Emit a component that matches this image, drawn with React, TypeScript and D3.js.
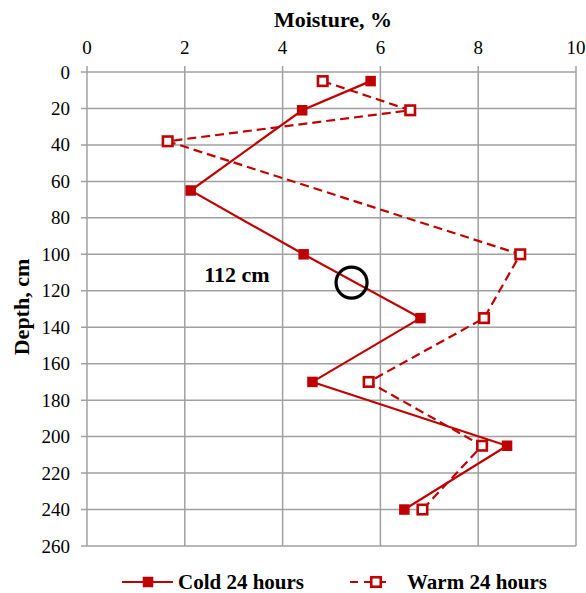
import * as d3 from "d3";

const coldMoisture = [5.8, 4.4, 2.12, 4.43, 6.82, 4.61, 8.59, 6.49];
const coldDepth = [5, 21, 65, 100, 135, 170, 205, 240];
const warmMoisture = [4.82, 6.61, 1.65, 8.86, 8.12, 5.76, 8.08, 6.86];
const warmDepth = [5, 21, 38, 100, 135, 170, 205, 240];
const xTicks = [0, 2, 4, 6, 8, 10];
const yTicks = d3.range(0, 261, 20);
const marker = { moisture: 5.41, depth: 115.5, label: "112 cm" };
const seriesNames = ["Cold 24 hours", "Warm 24 hours"];

const RED = "#c00000";
const GRID = "#a0a0a0";
const FONT = "'Liberation Serif', 'Times New Roman', serif";

export default function App() {
  const W = 586, H = 593;
  const M = { l: 87, r: 10, t: 72, b: 47 };
  const sx = d3.scaleLinear().domain([0, 10]).range([M.l, W - M.r]);
  const sy = d3.scaleLinear().domain([0, 260]).range([M.t, H - M.b]);
  const line = d3.line<[number, number]>().x(d => sx(d[0])).y(d => sy(d[1]));
  const cold: [number, number][] = coldMoisture.map((m, i) => [m, coldDepth[i]]);
  const warm: [number, number][] = warmMoisture.map((m, i) => [m, warmDepth[i]]);
  const sq = 10.5, osq = 9.5;

  return (
    <div style={{ position: "fixed", left: 0, top: 0 }}>
      <svg width={W} height={H} style={{ display: "block", fontFamily: FONT }}>
        <rect width={W} height={H} fill="#fff" />
        {xTicks.map(t => <line key={"gx" + t} x1={sx(t)} x2={sx(t)} y1={M.t - 6} y2={H - M.b} stroke={GRID} strokeWidth={1.5} />)}
        {yTicks.map(t => <line key={"gy" + t} x1={M.l - 6} x2={W - M.r} y1={sy(t)} y2={sy(t)} stroke={GRID} strokeWidth={1.5} />)}
        {xTicks.map(t => <text key={"tx" + t} x={sx(t)} y={M.t - 18} textAnchor="middle" fontSize={19}>{t}</text>)}
        {yTicks.map(t => <text key={"ty" + t} x={M.l - 17} y={sy(t) + 6.5} textAnchor="end" fontSize={19}>{t}</text>)}
        <text x={333} y={27} textAnchor="middle" fontSize={22} fontWeight="bold">Moisture, %</text>
        <text transform={`translate(29 307) rotate(-90)`} textAnchor="middle" fontSize={22} fontWeight="bold">Depth, cm</text>

        <path d={line(warm) || ""} fill="none" stroke={RED} strokeWidth={2.2} strokeDasharray="9 5" />
        <path d={line(cold) || ""} fill="none" stroke={RED} strokeWidth={2.2} />
        {cold.map((d, i) => <rect key={"c" + i} x={sx(d[0]) - sq / 2} y={sy(d[1]) - sq / 2} width={sq} height={sq} fill={RED} />)}
        {warm.map((d, i) => <rect key={"w" + i} x={sx(d[0]) - osq / 2} y={sy(d[1]) - osq / 2} width={osq} height={osq} fill="#fff" stroke={RED} strokeWidth={2.6} />)}

        <circle cx={sx(marker.moisture)} cy={sy(marker.depth)} r={15.5} fill="none" stroke="#000" strokeWidth={3.2} />
        <text x={237} y={282} textAnchor="middle" fontSize={22} fontWeight="bold">{marker.label}</text>

        <g transform="translate(0 582)">
          <line x1={122} x2={173} y1={0} y2={0} stroke={RED} strokeWidth={2.2} />
          <rect x={148 - sq / 2} y={-sq / 2} width={sq} height={sq} fill={RED} />
          <text x={178} y={7} fontSize={21} fontWeight="bold">{seriesNames[0]}</text>
          <line x1={350} x2={392} y1={0} y2={0} stroke={RED} strokeWidth={2.2} strokeDasharray="8 6" />
          <rect x={376 - osq / 2} y={-osq / 2} width={osq} height={osq} fill="#fff" stroke={RED} strokeWidth={2.6} />
          <text x={407} y={7} fontSize={21} fontWeight="bold">{seriesNames[1]}</text>
        </g>
      </svg>
    </div>
  );
}
